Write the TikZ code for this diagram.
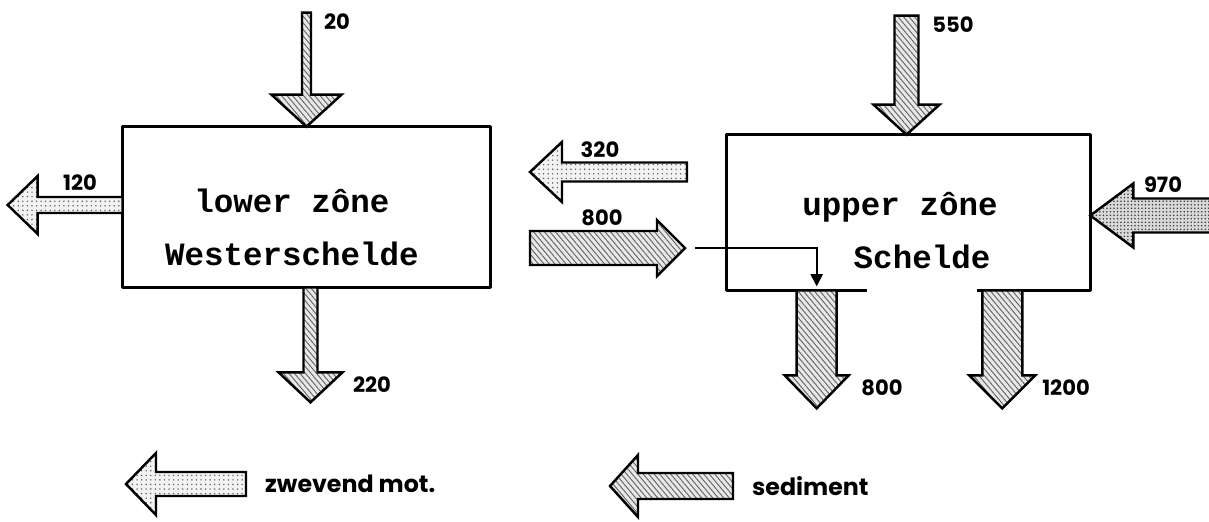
\documentclass[tikz,border=0pt]{standalone}
\usepackage{fontspec}
\newfontfamily\numfont{Poppins}
\newfontfamily\zonefont{Liberation Mono}
\usetikzlibrary{calc,patterns.meta,arrows.meta}

\tikzset{
  zone/.style={minimum width=#1, inner sep=0pt},
  boxline/.style={line width=1.5pt, line join=round},
  susp/.style={draw, line width=1.4pt, preaction={fill=gray!10},
    pattern={Dots[distance=2.6pt,radius=0.45pt]}, pattern color=black!65},
  suspdense/.style={draw, line width=1.4pt, preaction={fill=gray!30},
    pattern={Dots[distance=2pt,radius=0.5pt]}, pattern color=black!75},
  sedi/.style={draw, line width=1.4pt, preaction={fill=gray!18},
    pattern={Lines[angle=-50,distance=2.4pt,line width=0.55pt]}, pattern color=black!60},
  num/.style={font=\numfont\bfseries\fontsize{12}{14}\selectfont},
  key/.style={font=\numfont\bfseries\fontsize{13.5}{15}\selectfont, anchor=west},
  ztext/.style={font=\zonefont\bfseries\fontsize{18.5}{20}\selectfont, anchor=base},
  conn/.style={line width=1pt, -{Triangle[length=7pt,width=7pt]}},
  % block arrow along +x: length, shaft half width, head half width, head length, style
  pics/flow/.style n args={5}{code={
    \draw[#5] (0,-#2) -- ({#1-#4},-#2) -- ({#1-#4},-#3) -- (#1,0)
      -- ({#1-#4},#3) -- ({#1-#4},#2) -- (0,#2) -- cycle;
    \coordinate (-base) at (0,0);
    \coordinate (-tip) at (#1,0);
  }},
}

\begin{document}
\begin{tikzpicture}[x=0.02cm, y=-0.02cm]
  \useasboundingbox (0,0) rectangle (1209,521);

  % Zones
  \node[zone=7.34cm, minimum height=3.2cm] (lower) at (306.5,207) {};
  \draw[boxline] (lower.south west) rectangle (lower.north east);
  \node[zone=7.26cm, minimum height=3.1cm] (upper) at (908.5,212.5) {};
  \draw[boxline] ($(upper.south west)+(140,0)$) -- (upper.south west)
    -- (upper.north west) -- (upper.north east) -- (upper.south east)
    -- ($(upper.south east)+(-113,0)$);

  \node[ztext] (lowname) at (292,212) {lower zône};
  \node[ztext] (lowriver) at (292,265) {Westerschelde};
  \node[ztext] (upname) at (900,215) {upper zône};
  \node[ztext] (upriver) at (922,268) {Schelde};

  % Flows of the lower zone
  \pic[rotate=-90] (in20) at ($(lower.north)+(0,-114)$) {flow={114}{4.5}{35}{32}{sedi}};
  \pic[rotate=-90] (out220) at ($(lower.south)+(4,0)$) {flow={115}{7}{32}{30}{sedi}};
  \pic[rotate=180] (out120) at ($(lower.west)+(0,-2)$) {flow={115}{8}{29}{30}{susp}};

  % Exchange between the zones
  \pic[rotate=180] (out320) at (687,172) {flow={157}{9.5}{30}{32}{susp}};
  \pic (in800) at (530,248) {flow={155}{17}{28}{28}{sedi}};

  % Flows of the upper zone
  \pic[rotate=-90] (in550) at ($(upper.north)+(-2,-119)$) {flow={119}{12}{33}{30}{sedi}};
  \pic[rotate=180] (in970) at ($(upper.east)+(125,3)$) {flow={125}{17}{32}{43}{suspdense}};
  \pic[rotate=-90] (out800) at ($(upper.south west)+(90,0)$) {flow={118}{20}{32}{33}{sedi}};
  \pic[rotate=-90] (out1200) at ($(upper.south east)+(-88,0)$) {flow={118}{20}{33}{33}{sedi}};

  \draw[conn] ([xshift=0.2cm]in800-tip) -| ([yshift=0.08cm]out800-base);

  % Numbers
  \node[num] (n20) at (337,22) {20};
  \node[num] (n220) at (372,385) {220};
  \node[num] (n120) at (80,183) {120};
  \node[num] (n320) at (600,150) {320};
  \node[num] (n800in) at (602,218) {800};
  \node[num] (n550) at (953,25) {550};
  \node[num] (n970) at (1163,185) {970};
  \node[num] (n800out) at (882,388) {800};
  \node[num] (n1200) at (1066,388) {1200};

  % Legend
  \pic[rotate=180] (keysusp) at (246,484) {flow={120}{12}{31}{30}{susp}};
  \pic[rotate=180] (keysed) at (733,486) {flow={123}{13}{31}{28}{sedi}};
  \node[key] (tsusp) at ($(keysusp-base)+(13,0)$) {zwevend mot.};
  \node[key] (tsed) at ($(keysed-base)+(13,0)$) {sediment};
\end{tikzpicture}
\end{document}
